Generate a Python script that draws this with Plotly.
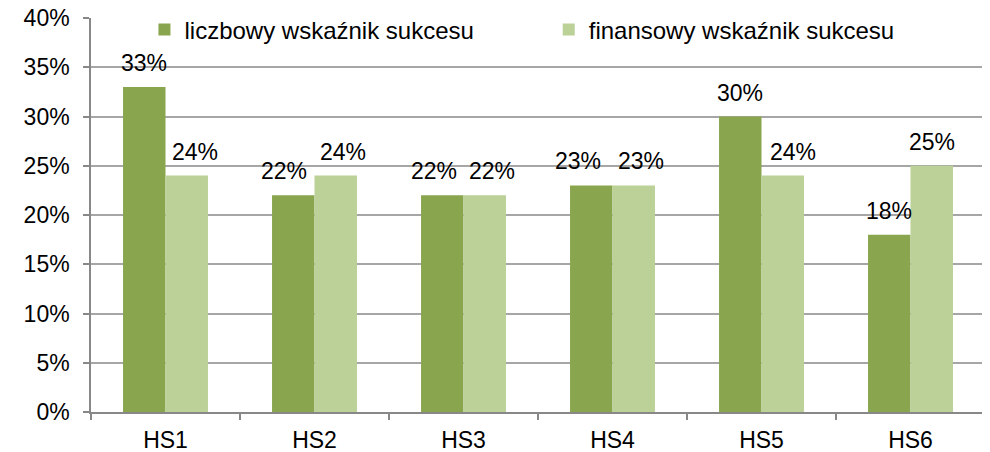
import plotly.graph_objects as go

categories = ["HS1", "HS2", "HS3", "HS4", "HS5", "HS6"]
liczbowy = [33, 22, 22, 23, 30, 18]
finansowy = [24, 24, 22, 23, 24, 25]
series_names = ["liczbowy wskaźnik sukcesu", "finansowy wskaźnik sukcesu"]
tick_vals = [0, 5, 10, 15, 20, 25, 30, 35, 40]
tick_text = [f"{v}%" for v in tick_vals]

# label nudges (style only, px) to mimic the reference's label placement
nudge_liczbowy = [0, -9, -8.5, -13.5, 0, 0]
nudge_finansowy = [8, 7.5, 7.5, 7.5, 10, 0]

FAM = "Liberation Sans, Arial, sans-serif"
font = dict(family=FAM, size=23, color="#000000")
lfont = dict(family=FAM, size=24, color="#000000")

colors = ["#89A54E", "#BBD197"]
legends = ["legend", "legend2"]
offsets = [-21.2, 21.2]

fig = go.Figure()
for name, vals, col, lg, off, nudges in zip(series_names, [liczbowy, finansowy], colors,
                                            legends, offsets, [nudge_liczbowy, nudge_finansowy]):
    fig.add_trace(go.Bar(
        x=categories, y=vals, name=name, legend=lg,
        marker=dict(color=col, line=dict(width=0)),
    ))
    for c, v, n in zip(categories, vals, nudges):
        fig.add_annotation(x=c, y=v, text=f"{v}%", showarrow=False,
                           xshift=off + n, yshift=9, yanchor="bottom",
                           font=font)

leg_common = dict(orientation="h", yanchor="middle", xanchor="left", y=0.97,
                  font=lfont, bgcolor="rgba(0,0,0,0)", itemclick=False,
                  borderwidth=0, tracegroupgap=0)

fig.update_layout(
    width=990, height=452, autosize=False,
    margin=dict(l=83, r=13, t=10, b=48, autoexpand=False),
    paper_bgcolor="white", plot_bgcolor="white",
    barmode="group", bargap=0.43, bargroupgap=0,
    font=font,
    showlegend=True,
    legend=dict(x=0.0598, **leg_common),
    legend2=dict(x=0.512, **leg_common),
    xaxis=dict(showline=True, linecolor="#888888", linewidth=1.5,
               ticks="outside", tickson="boundaries", ticklen=6, tickcolor="#888888",
               tickwidth=1.5, showgrid=False, tickfont=font, automargin=False,
               ticklabelstandoff=7),
    yaxis=dict(range=[0, 40], tickvals=tick_vals, ticktext=tick_text,
               showline=True, linecolor="#888888", linewidth=1.5,
               ticks="outside", ticklen=6, tickcolor="#888888", tickwidth=1.5,
               showgrid=True, gridcolor="#A6A6A6", gridwidth=1.5,
               zeroline=False, tickfont=font, automargin=False,
               ticklabelstandoff=9, ticklabeloverflow="allow"),
)

fig.write_html("out.html", config={"responsive": False})
